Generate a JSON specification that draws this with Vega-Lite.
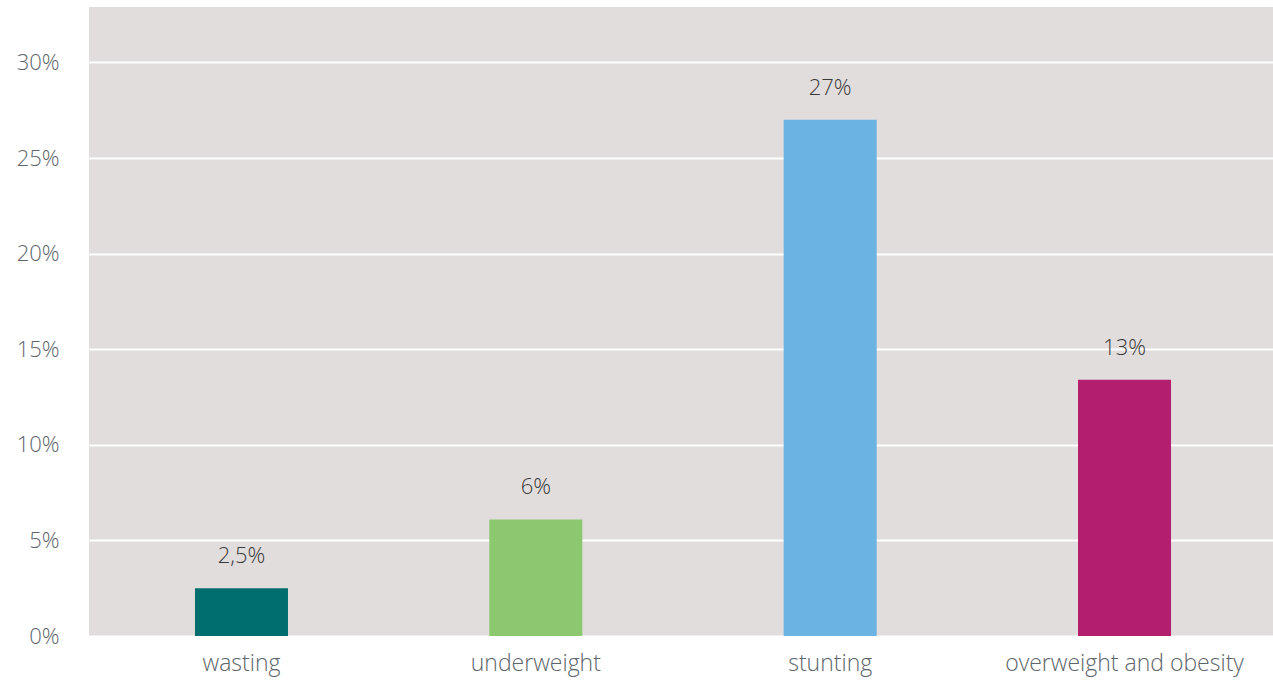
{
  "$schema": "https://vega.github.io/schema/vega-lite/v6.json",
  "autosize": {"type": "none"},
  "padding": {"left": 89, "top": 7, "right": 0, "bottom": 45},
  "width": 1188,
  "height": 629,
  "background": "#ffffff",
  "config": {
    "view": {"fill": "#e1dddd", "stroke": null},
    "font": "Open Sans"
  },
  "data": {
    "values": [
      {"category": "wasting", "value": 2.5, "label": "2,5%"},
      {"category": "underweight", "value": 6.1, "label": "6%"},
      {"category": "stunting", "value": 27.0, "label": "27%"},
      {"category": "overweight and obesity", "value": 13.4, "label": "13%"}
    ]
  },
  "encoding": {
    "x": {
      "field": "category",
      "type": "nominal",
      "sort": null,
      "scale": {"paddingInner": 0.684, "paddingOuter": 0.36},
      "axis": {
        "title": null,
        "labelAngle": 0,
        "labelFontSize": 23,
        "labelFontWeight": 300,
        "labelColor": "#5d666b",
        "labelPadding": 16,
        "labelLimit": 0,
        "ticks": false,
        "domain": false,
        "grid": false
      }
    },
    "y": {
      "field": "value",
      "type": "quantitative",
      "scale": {"domain": [0, 32.9], "nice": false},
      "axis": {
        "title": null,
        "values": [0, 5, 10, 15, 20, 25, 30],
        "labelExpr": "datum.value + '%'",
        "labelFontSize": 22,
        "labelFontWeight": 300,
        "labelColor": "#5d666b",
        "labelPadding": 30,
        "ticks": false,
        "domain": false,
        "grid": true,
        "gridColor": "#ffffff",
        "gridWidth": 2,
        "gridOpacity": 1
      }
    }
  },
  "layer": [
    {
      "mark": {"type": "bar"},
      "encoding": {
        "color": {
          "field": "category",
          "type": "nominal",
          "scale": {
            "domain": ["wasting", "underweight", "stunting", "overweight and obesity"],
            "range": ["#006d6f", "#8bc870", "#6bb3e2", "#b31f6e"]
          },
          "legend": null
        }
      }
    },
    {
      "mark": {"type": "text", "baseline": "bottom", "dy": -20, "fontSize": 22, "fontWeight": 300, "color": "#3a3a3a"},
      "encoding": {"text": {"field": "label"}}
    }
  ]
}
